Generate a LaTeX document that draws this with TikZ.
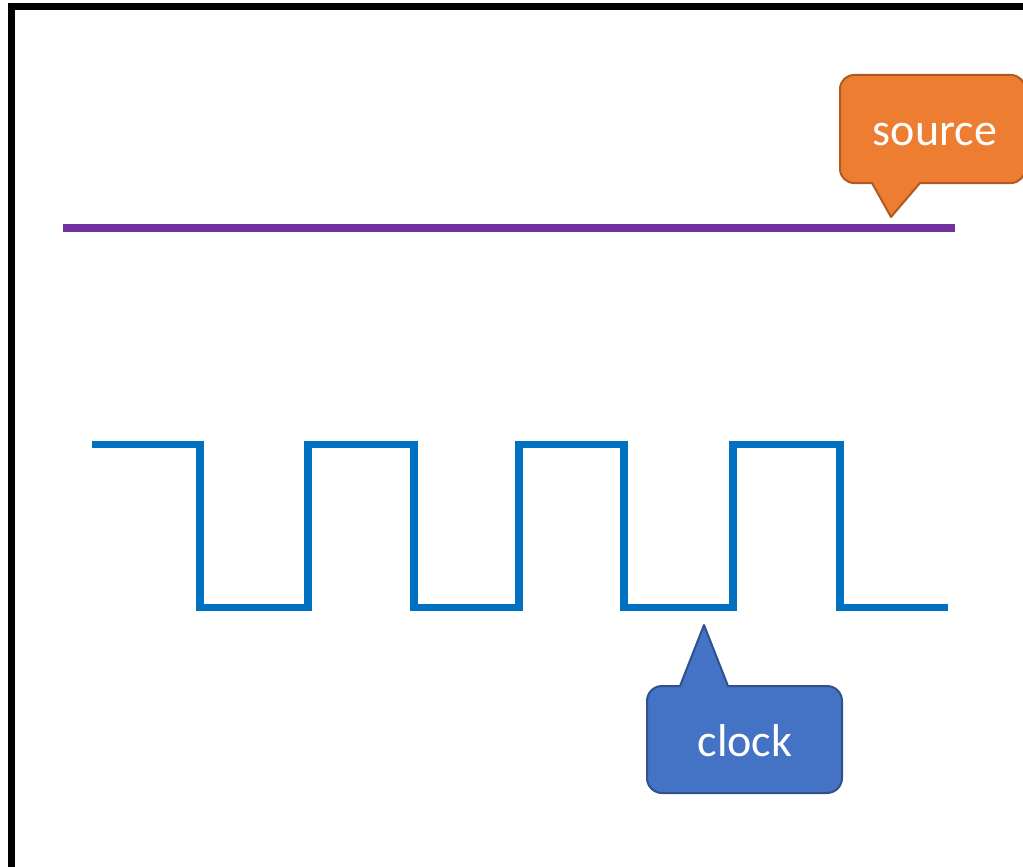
\documentclass[tikz,border=0pt]{standalone}
\usepackage{fontspec}
\setmainfont{Carlito}
\definecolor{srcfill}{HTML}{ED7D31}
\definecolor{srcedge}{HTML}{AE5A21}
\definecolor{clkfill}{HTML}{4472C4}
\definecolor{clkedge}{HTML}{2F528F}
\definecolor{railcol}{HTML}{7030A0}
\definecolor{wavecol}{HTML}{0070C0}
\tikzset{
  frame/.style={draw=black, line width=7pt},
  rail/.style={draw=railcol, line width=8pt},
  wave/.style={draw=wavecol, line width=7.5pt, miter limit=10},
  srccallout/.style={fill=srcfill, draw=srcedge, line width=2pt, line join=round},
  clkcallout/.style={fill=clkfill, draw=clkedge, line width=2pt, line join=round},
  calltext/.style={text=white, font=\fontsize{46}{50}\selectfont, inner sep=0pt, anchor=base}
}
\begin{document}
\begin{tikzpicture}[x=1pt, y=-1pt]
\useasboundingbox (0,0) rectangle (1023,867);
\clip (0,0) rectangle (1023,867);
\fill[white] (0,0) rectangle (1023,867);

% outer frame (runs off the right and bottom edges)
\draw[frame] (11.5,6.5) rectangle (1040,890);

% supply rail
\coordinate (railL) at (63,228);
\coordinate (railR) at (955,228);
\draw[rail] (railL) -- (railR);

% clock waveform
\draw[wave] (92,444.5) -- (200,444.5) -- (200,607.5) -- (308,607.5)
  -- (308,444.5) -- (414,444.5) -- (414,607.5) -- (519,607.5)
  -- (519,444.5) -- (624,444.5) -- (624,607.5) -- (733,607.5)
  -- (733,444.5) -- (840,444.5) -- (840,607.5) -- (948,607.5);

% "source" speech bubble pointing at the rail
\draw[srccallout] (891,217) -- (920,183) -- (1011,183)
  arc[start angle=90, end angle=0, radius=14] -- (1025,89)
  arc[start angle=0, end angle=-90, radius=14] -- (854,75)
  arc[start angle=-90, end angle=-180, radius=14] -- (840,169)
  arc[start angle=180, end angle=90, radius=14] -- (872,183) -- cycle;
\node[calltext] (source) at (935,145) {source};

% "clock" speech bubble pointing at the waveform
\draw[clkcallout] (704,625) -- (728,686) -- (827,686)
  arc[start angle=-90, end angle=0, radius=15] -- (842,778)
  arc[start angle=0, end angle=90, radius=15] -- (662,793)
  arc[start angle=90, end angle=180, radius=15] -- (647,701)
  arc[start angle=180, end angle=270, radius=15] -- (680,686) -- cycle;
\node[calltext] (clock) at (745,756) {clock};
\end{tikzpicture}
\end{document}
